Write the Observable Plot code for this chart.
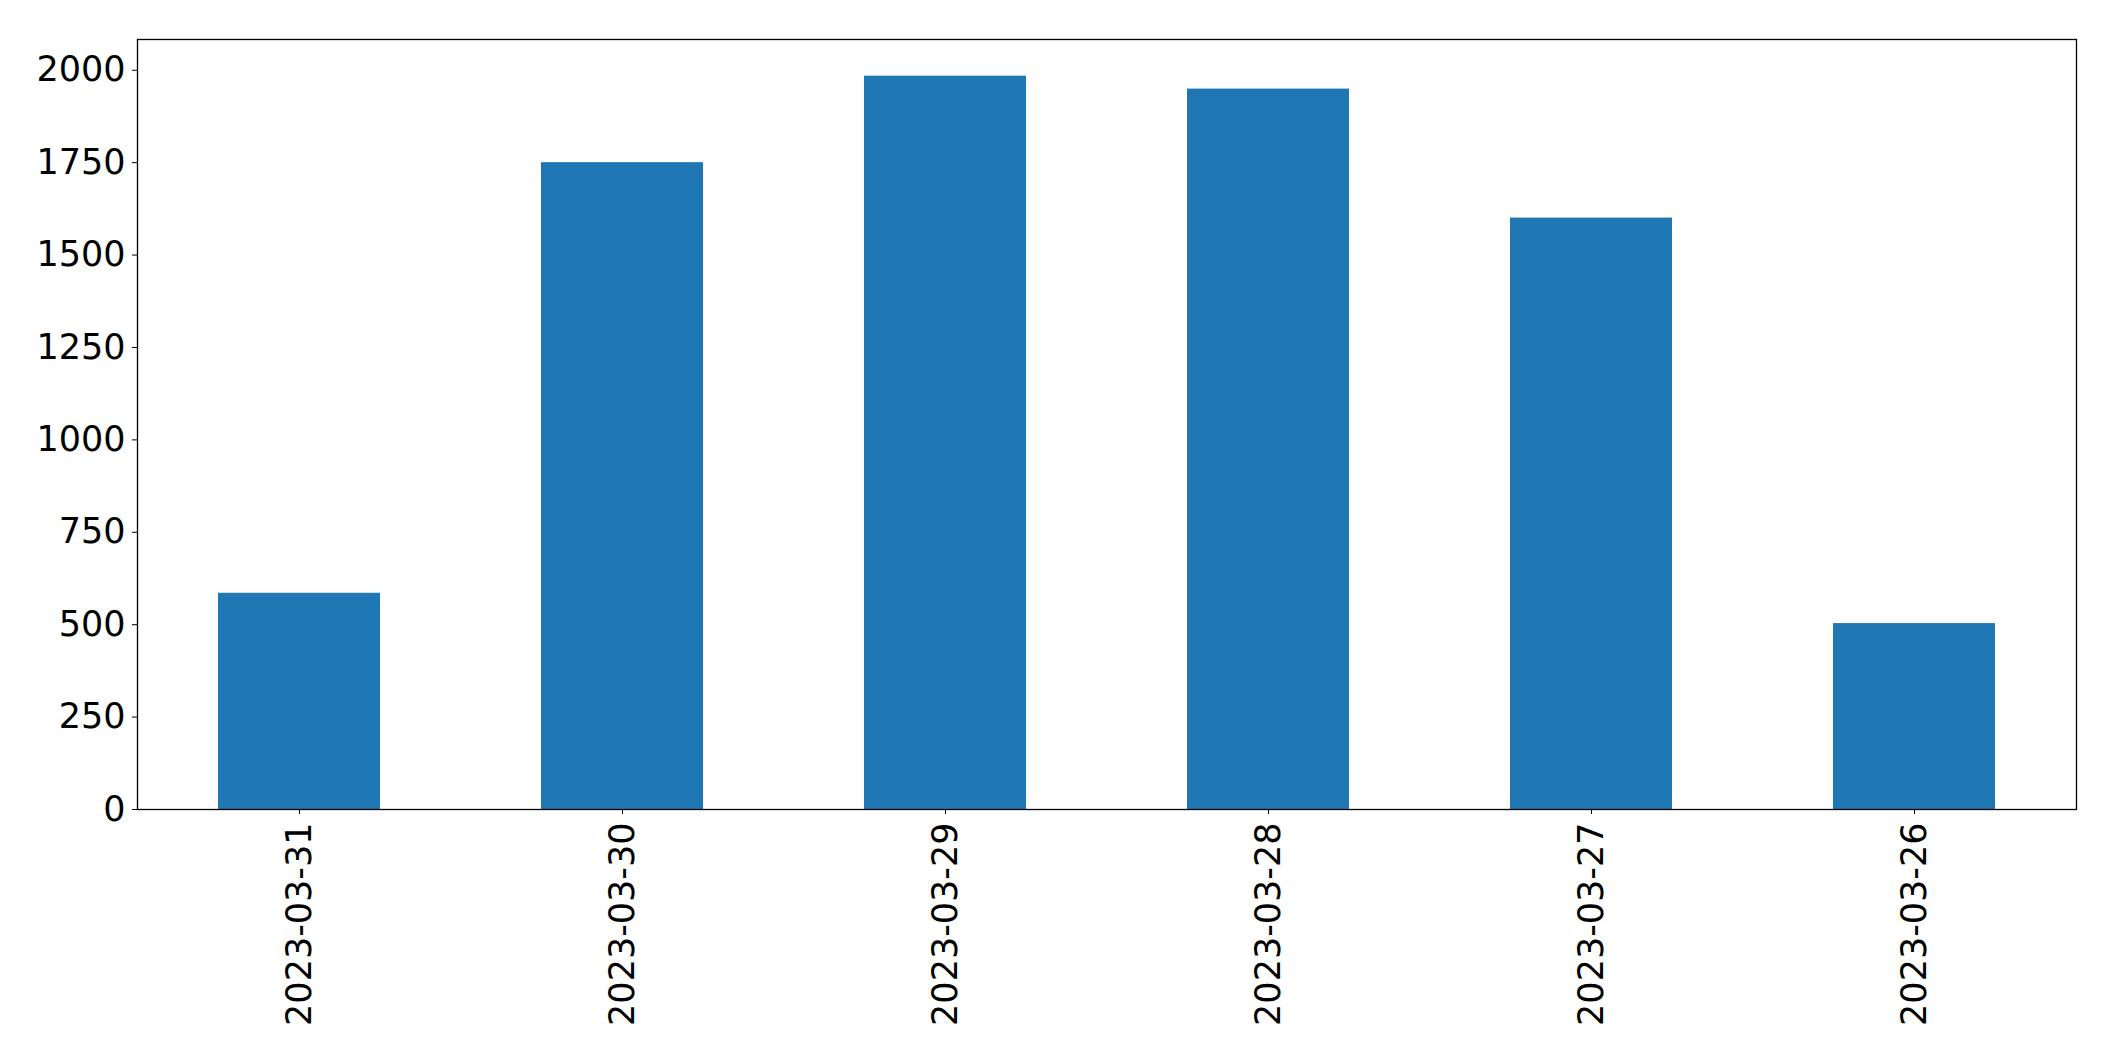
<!DOCTYPE html>
<html>
<head>
<meta charset="utf-8">
<script src="https://cdn.jsdelivr.net/npm/d3@7"></script>
<script src="https://cdn.jsdelivr.net/npm/@observablehq/plot@0.6"></script>
<style>
  html, body { margin: 0; padding: 0; background: #fff; }
  #chart svg { display: block; }
</style>
</head>
<body>
<div id="chart"></div>
<script>
const dates = ["2023-03-31", "2023-03-30", "2023-03-29", "2023-03-28", "2023-03-27", "2023-03-26"];
const counts = [585, 1750, 1984, 1949, 1600, 503];
const yTicks = [0, 250, 500, 750, 1000, 1250, 1500, 1750, 2000];

const data = dates.map((d, i) => ({date: d, count: counts[i]}));

const chart = Plot.plot({
  width: 2115,
  height: 1061,
  marginLeft: 137,
  marginRight: 39,
  marginTop: 39,
  marginBottom: 252,
  style: {fontFamily: "DejaVu Sans", fontSize: "35px", color: "black", background: "white"},
  x: {domain: dates, paddingInner: 0.5, paddingOuter: 0.25, label: null},
  y: {domain: [0, d3.max(counts) * 1.05], label: null},
  marks: [
    Plot.barY(data, {x: "date", y: "count", fill: "#1f77b4", inset: 0}),
    Plot.frame({stroke: "black", strokeWidth: 1.3}),
    Plot.axisY(yTicks, {tickSize: 5, tickPadding: 7, fontSize: 35, label: null, stroke: "black", tickFormat: d => String(d)}),
    Plot.axisX({tickRotate: -90, tickSize: 5, tickPadding: 8, fontSize: 35, label: null, stroke: "black"})
  ]
});
document.getElementById("chart").appendChild(chart);
</script>
</body>
</html>
